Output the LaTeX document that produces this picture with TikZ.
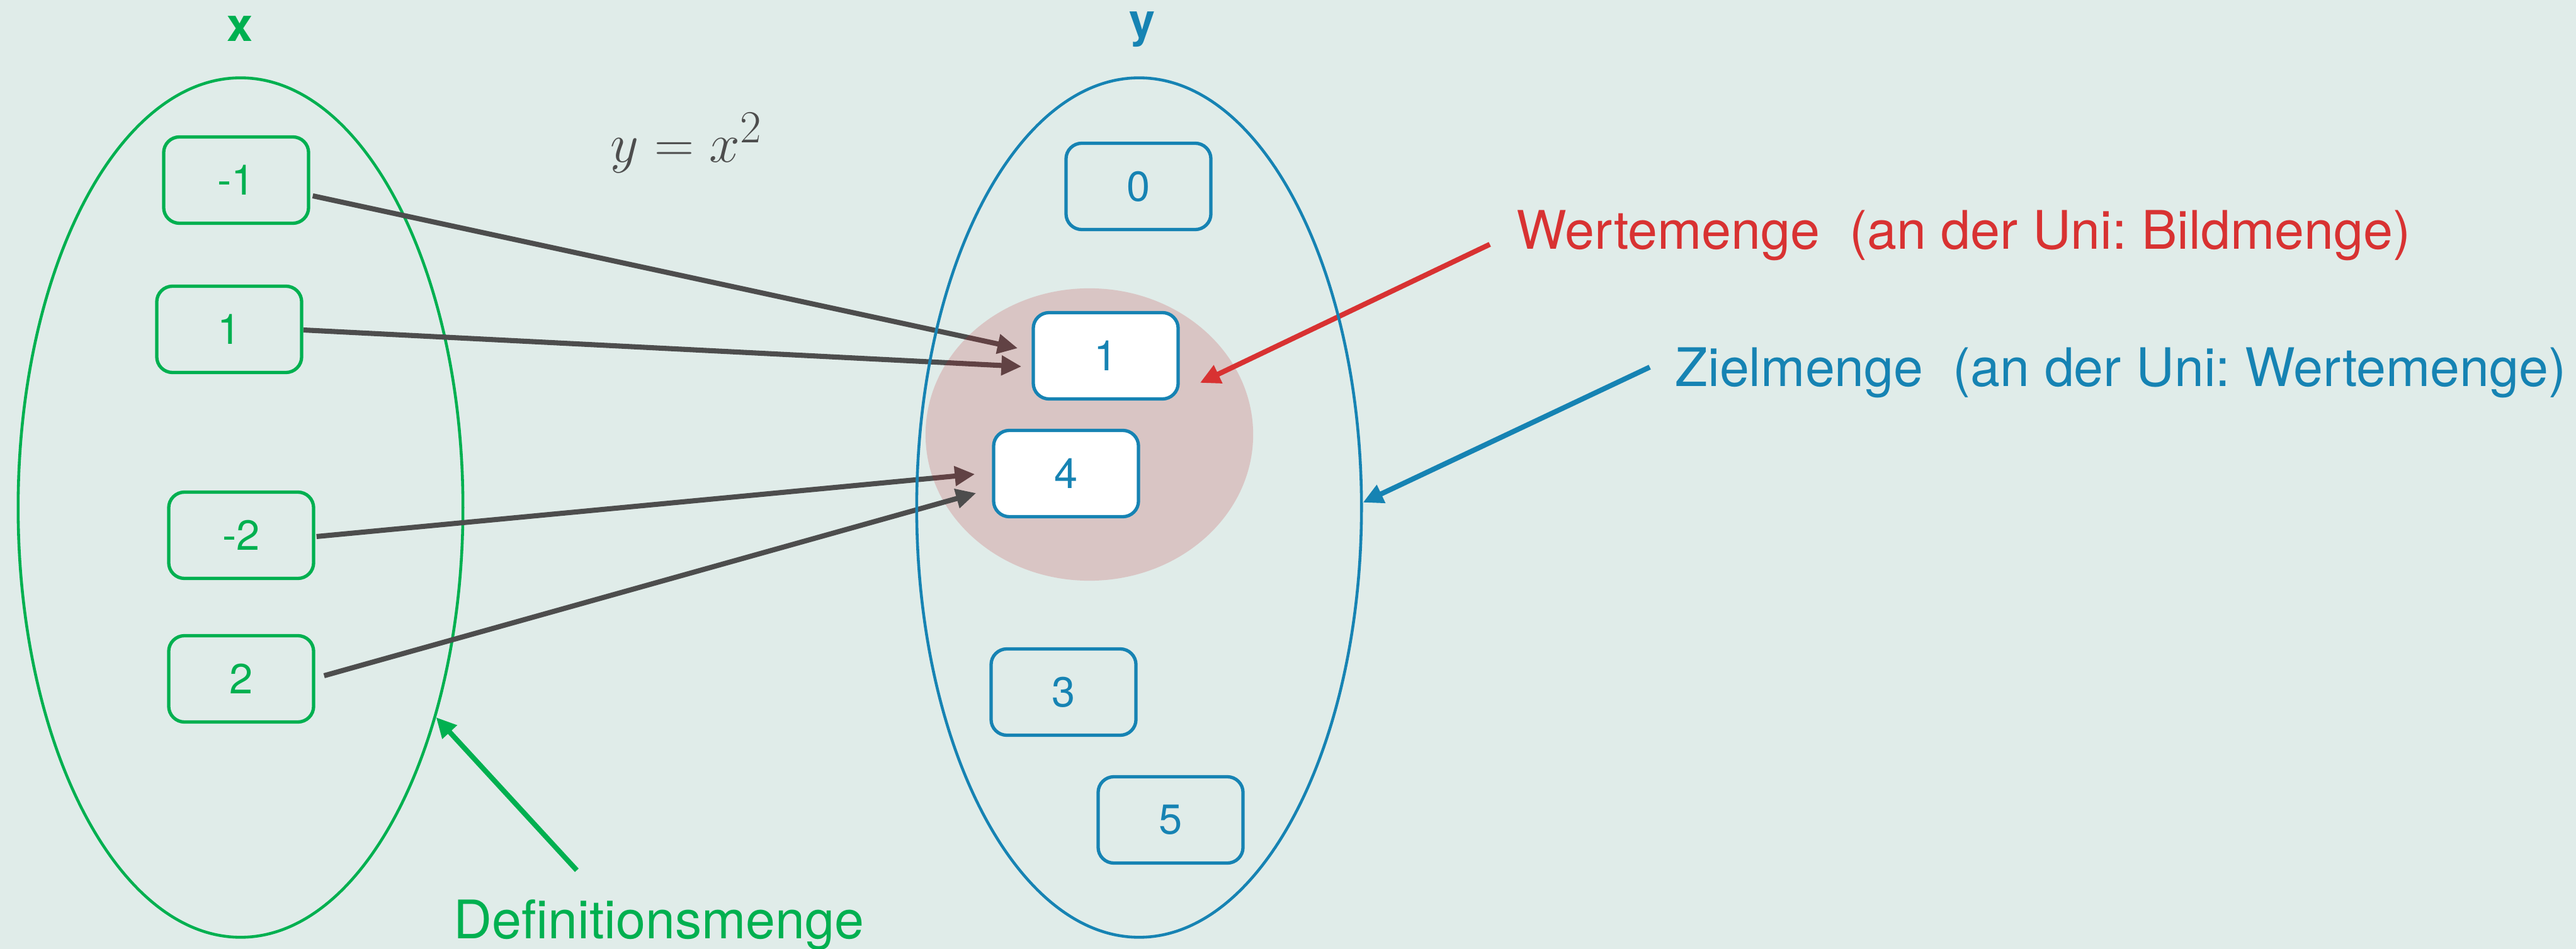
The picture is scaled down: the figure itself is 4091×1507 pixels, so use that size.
\documentclass[tikz,border=0pt]{standalone}
\usepackage[no-math]{fontspec}
\setmainfont{TeX Gyre Heros}
\usetikzlibrary{shapes.geometric,arrows.meta,calc}
\frenchspacing

\definecolor{bgc}{HTML}{E0ECE9}
\definecolor{dgreen}{HTML}{00B050}
\definecolor{dblue}{HTML}{1683B3}
\definecolor{dred}{HTML}{D83232}
\definecolor{dgray}{HTML}{4D4D4D}
\definecolor{imgred}{RGB}{190,20,30}

\pgfdeclarelayer{back}
\pgfdeclarelayer{front}
\pgfsetlayers{back,main,front}

\begin{document}
\begin{tikzpicture}[x=0.01cm,y=-0.01cm,
  setshape/.style={ellipse, draw, line width=1.3pt, minimum width=7.06cm,
    minimum height=13.64cm, inner sep=0pt},
  valbox/.style={draw, rounded corners=0.25cm, line width=1.5pt,
    minimum width=2.3cm, minimum height=1.37cm, inner sep=0pt,
    font=\fontsize{19}{19}\selectfont},
  xbox/.style={valbox, draw=dgreen, text=dgreen},
  ybox/.style={valbox, draw=dblue, text=dblue},
  setname/.style={font=\bfseries\fontsize{21}{21}\selectfont},
  caption/.style={font=\fontsize{24}{24}\selectfont, anchor=base west, inner sep=0pt},
  conn/.style={draw=dgray, line width=2.3pt, -{Triangle[length=0.32cm,width=0.3cm]}},
  pointer/.style={line width=2.3pt, -{Triangle[length=0.32cm,width=0.3cm]}}
]
\useasboundingbox (0,0) rectangle (4091,1507);

% background and domain set
\begin{pgfonlayer}{back}
  \fill[bgc] (0,0) rectangle (4091,1507);
  \node[setshape, draw=dgreen] (X) at (382,806) {};
\end{pgfonlayer}

% set names and the function
\node[setname, text=dgreen] (xl) at (381,46) {x};
\node[setname, text=dblue] (yl) at (1814,47) {y};
\node[text=dgray, font=\fontsize{24.88}{26}\selectfont, anchor=base, inner sep=0pt]
  (fn) at (1090,258) {$y = x^2$};

% captions
\node[caption, text=dred] (wm) at (2408,396) {Wertemenge~~(an der Uni: Bildmenge)};
\node[caption, text=dblue] (zm) at (2660,614) {Zielmenge~~(an der Uni: Wertemenge)};
\node[caption, text=dgreen] (dm) at (720,1490) {Definitionsmenge};

% value boxes
\begin{pgfonlayer}{front}
  \node[xbox] (gm1) at (375,286) {-1};
  \node[xbox] (g1)  at (364,523) {1};
  \node[xbox] (gm2) at (383,850) {-2};
  \node[xbox] (g2)  at (383,1078) {2};

  \node[ybox] (b0) at (1808,296) {0};
  \node[ybox, fill=white] (b1) at (1756,565) {1};
  \node[ybox, fill=white] (b4) at (1693,752) {4};
  \node[ybox] (b3) at (1689,1099) {3};
  \node[ybox] (b5) at (1859,1302) {5};
\end{pgfonlayer}

% mappings lying under the image set
\begin{pgfonlayer}{back}
  \draw[conn] ($(gm1.east)+(4,25)$) -- ($(b1.west)+(-22,-12)$);
  \draw[conn] ($(g1.east)+(0,1)$) -- ($(b1.west)+(-16,17)$);
  \draw[conn] ($(gm2.east)+(2,2)$) -- ($(b4.west)+(-27,1)$);
  \draw[pointer, dgreen] ($(dm.base west)+(196,-108)$) -- (X.-47);
\end{pgfonlayer}

% image set
\node[ellipse, fill=imgred, fill opacity=0.18, inner sep=0pt,
  minimum width=5.2cm, minimum height=4.64cm] (img) at (1730,690) {};

\begin{pgfonlayer}{front}
  \draw[conn] ($(g2.east)+(14,-5)$) -- ($(b4.west)+(-25,31)$);
  \coordinate (imgtip) at ($(b1.east)+(32,43)$);
  \draw[pointer, dred] ($(wm.base west)+(-42,-8)$) -- (imgtip);
  \node[setshape, draw=dblue] (Y) at (1809,806) {};
  \draw[pointer, dblue] ($(zm.base west)+(-40,-31)$) -- ($(Y.east)+(0,-8)$);
\end{pgfonlayer}
\end{tikzpicture}
\end{document}
